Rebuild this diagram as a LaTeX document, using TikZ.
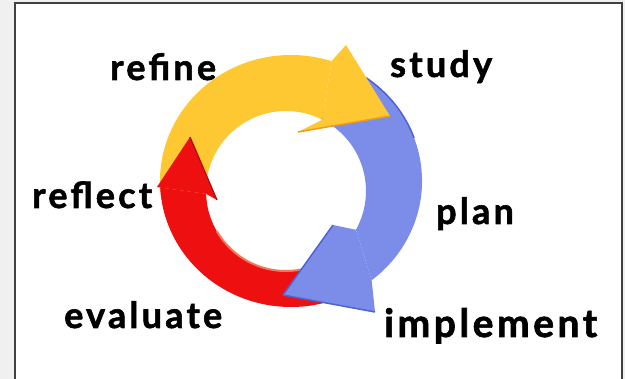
\documentclass[tikz,border=0pt]{standalone}
\usepackage{fontspec}
\setmainfont{Lato}[BoldFeatures={FakeBold=1.6}]
\usepackage{tikz}
\usetikzlibrary{calc}
\usetikzlibrary{positioning}

\definecolor{cycyellow}{HTML}{FDC832}
\definecolor{cycorange}{HTML}{F29A1C}
\definecolor{cycblue}{HTML}{7B8DE8}
\definecolor{cycdblue}{HTML}{4E62D6}
\definecolor{cycred}{HTML}{EE1010}
\definecolor{cycdred}{HTML}{B00A0A}
\definecolor{cycsalmon}{HTML}{F4765A}
\definecolor{panelgray}{HTML}{F0F0F0}

\tikzset{
  word/.style={font=\fontsize{36}{36}\selectfont\bfseries\addfontfeatures{LetterSpace=9}, anchor=base west, inner sep=0pt},
  bigword/.style={word, font=\fontsize{39}{39}\selectfont\bfseries\addfontfeatures{LetterSpace=9}},
}

\begin{document}
\begin{tikzpicture}[x=1pt,y=-1pt]
      \useasboundingbox (0,0) rectangle (625,379);
      \fill[panelgray] (0,0) rectangle (625,379);
      \draw[fill=white, draw=black!75, line width=1.4pt] (15,3) rectangle (622,390);
      % centres of the outer and inner edge of the ring
      \coordinate (O) at (291,181);
      \coordinate (I) at (286,191);
      % tails
      \fill[cycblue] ($(O)+(295:131 and 126)$) arc[start angle=295, end angle=412, x radius=131, y radius=126]
            -- ($(I)+(389:80)$) arc[start angle=389, end angle=295, radius=80] -- cycle;
      \draw[cycdblue, line width=1.5pt] ($(O)+(305:131 and 126)$) arc[start angle=305, end angle=340, x radius=131, y radius=126];
      \fill[cycyellow] ($(O)+(172:131 and 126)$) arc[start angle=172, end angle=288, x radius=131, y radius=126]
            -- ($(I)+(297:80)$) arc[start angle=297, end angle=172, radius=80] -- cycle;
      \fill[cycred] ($(O)+(62:131 and 126)$) arc[start angle=62, end angle=177, x radius=131, y radius=126]
            -- ($(I)+(178:80)$) arc[start angle=178, end angle=62, radius=80] -- cycle;
      \draw[cycsalmon, line width=2pt] ($(I)+(78:80)$) arc[start angle=78, end angle=150, radius=80];
      % heads
      \fill[cycblue] ($(O)+(412:131 and 126)$) -- (375,312) -- (283,295) -- (333,225) -- ($(I)+(389:80)$) -- cycle;
      \draw[cycdblue, line width=1.5pt] (283,295) -- (333,225);
      \draw[cycdblue, line width=1.5pt] (283,295) -- (375,312);
      \fill[cycyellow] ($(O)+(288:131 and 126)$) -- (346,45) -- (390,116) -- (298,132) -- ($(I)+(297:80)$) -- cycle;
      \draw[cycorange, line width=1.5pt] (390,116) -- (298,132);
      \fill[cycred] ($(O)+(177:131 and 126)$) -- (157,187) -- (190,137) -- (217,200) -- ($(I)+(178:80)$) -- cycle;
      \draw[cycdred, line width=1.2pt] (190,137) -- (217,200);
      % labels
      \node[word] (refine) at (110,80) {refine};
      \node[word] (study) at (390,77) {study};
      \node[word] (reflect) at (32,208) {reflect};
      \node[word] (plan) at (436,224) {plan};
      \node[word] (evaluate) at (64,328) {evaluate};
      \node[bigword] (implement) at (384,337) {implement};
\end{tikzpicture}
\end{document}
